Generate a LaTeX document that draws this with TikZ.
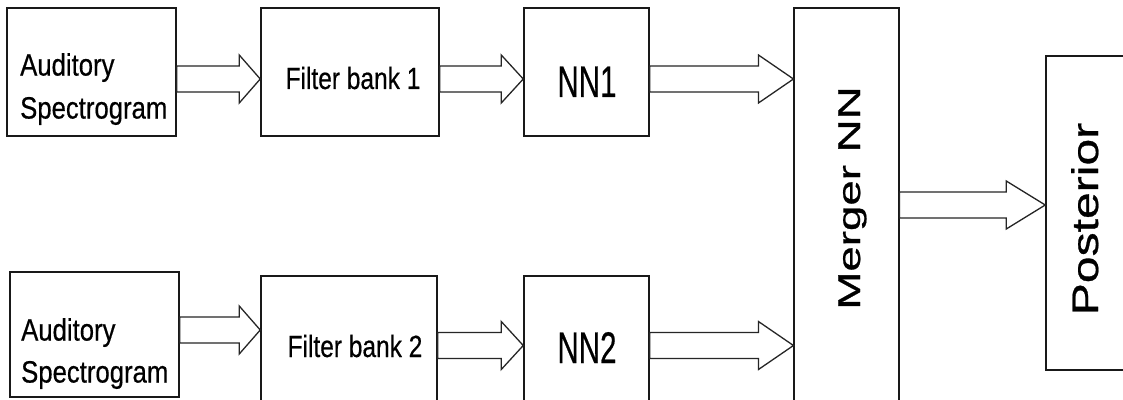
\documentclass[tikz,border=0pt]{standalone}
\usepackage{fontspec}
\setmainfont{Liberation Sans}[FakeBold=0.6]
\usepackage{graphicx}
\usepackage{tikz}
\usetikzlibrary{calc}

% hollow block arrow: from, to, y level, head length
\newcommand{\fatarrow}[4]{%
  \draw[blockarrow] ($(#1.east |- 0,#3)+(0,13)$) -- ($(#2.west |- 0,#3)+(-#4,13)$)
    -- ($(#2.west |- 0,#3)+(-#4,24)$) -- (#2.west |- 0,#3)
    -- ($(#2.west |- 0,#3)+(-#4,-24)$) -- ($(#2.west |- 0,#3)+(-#4,-13)$)
    -- ($(#1.east |- 0,#3)+(0,-13)$) -- cycle;}

\begin{document}
\begin{tikzpicture}[x=1pt, y=1pt,
    box/.style={draw=black!90, line width=1.5pt, inner sep=0pt},
    blockarrow/.style={draw=black!85, line width=1.3pt, line join=miter},
    lbl/.style={inner sep=0pt, text=black}]
    \useasboundingbox (0,0) rectangle (1123,399);
    \clip (0,0) rectangle (1123,399);
    \fill[white] (0,0) rectangle (1123,399);

    % Upper chain
    \node[box, minimum width=169, minimum height=128] (aud1) at (91.5,327) {};
    \node[box, minimum width=178, minimum height=128] (fb1) at (350,327) {};
    \node[box, minimum width=125, minimum height=128] (nn1) at (586.5,327) {};
    % Lower chain
    \node[box, minimum width=169, minimum height=125] (aud2) at (94.5,64.5) {};
    \node[box, minimum width=176, minimum height=153] (fb2) at (349,46.5) {};
    \node[box, minimum width=125, minimum height=153] (nn2) at (586.5,46.5) {};
    % Merger and output
    \node[box, line width=1.1pt, minimum width=105, minimum height=421] (merger) at (846.5,180.5) {};
    \node[box, minimum width=114, minimum height=314] (post) at (1103,186) {};

    % Texts
    \node[lbl, anchor=north west, align=left, font=\fontsize{25.7}{43}\selectfont] (aud1txt) at (20,346)
        {\scalebox{1}[1.2]{Auditory}\\\scalebox{1}[1.2]{Spectrogram}};
    \node[lbl, anchor=north west, align=left, font=\fontsize{25.7}{42}\selectfont] (aud2txt) at (21,81)
        {\scalebox{1}[1.2]{Auditory}\\\scalebox{1}[1.2]{Spectrogram}};
    \node[lbl, anchor=base, font=\fontsize{24.5}{28}\selectfont] (fb1txt) at (353,310)
        {\scalebox{1}[1.25]{Filter bank 1}};
    \node[lbl, anchor=base, font=\fontsize{24.5}{28}\selectfont] (fb2txt) at (355,42)
        {\scalebox{1}[1.25]{Filter bank 2}};
    \node[lbl, anchor=base, font=\fontsize{29.5}{34}\selectfont] (nn1txt) at (587,302)
        {\scalebox{1}[1.5]{NN1}};
    \node[lbl, anchor=base, font=\fontsize{29.5}{34}\selectfont] (nn2txt) at (587,36)
        {\scalebox{1}[1.5]{NN2}};
    \node[lbl, anchor=base, rotate=90, font=\fontsize{31.5}{36}\selectfont] (mergertxt) at (860,201)
        {\scalebox{1.45}[1]{Merger NN}};
    \node[lbl, anchor=base, rotate=90, font=\fontsize{37}{42}\selectfont] (posttxt) at (1098,180)
        {\scalebox{1.3}[1]{Posterior}};

    % Block arrows
    \fatarrow{aud1}{fb1}{320}{21}
    \fatarrow{fb1}{nn1}{320}{22}
    \fatarrow{nn1}{merger}{320}{35}
    \fatarrow{aud2}{fb2}{69}{21}
    \fatarrow{fb2}{nn2}{53.5}{22}
    \fatarrow{nn2}{merger}{53.5}{35}
    \fatarrow{merger}{post}{194}{39}
\end{tikzpicture}
\end{document}
